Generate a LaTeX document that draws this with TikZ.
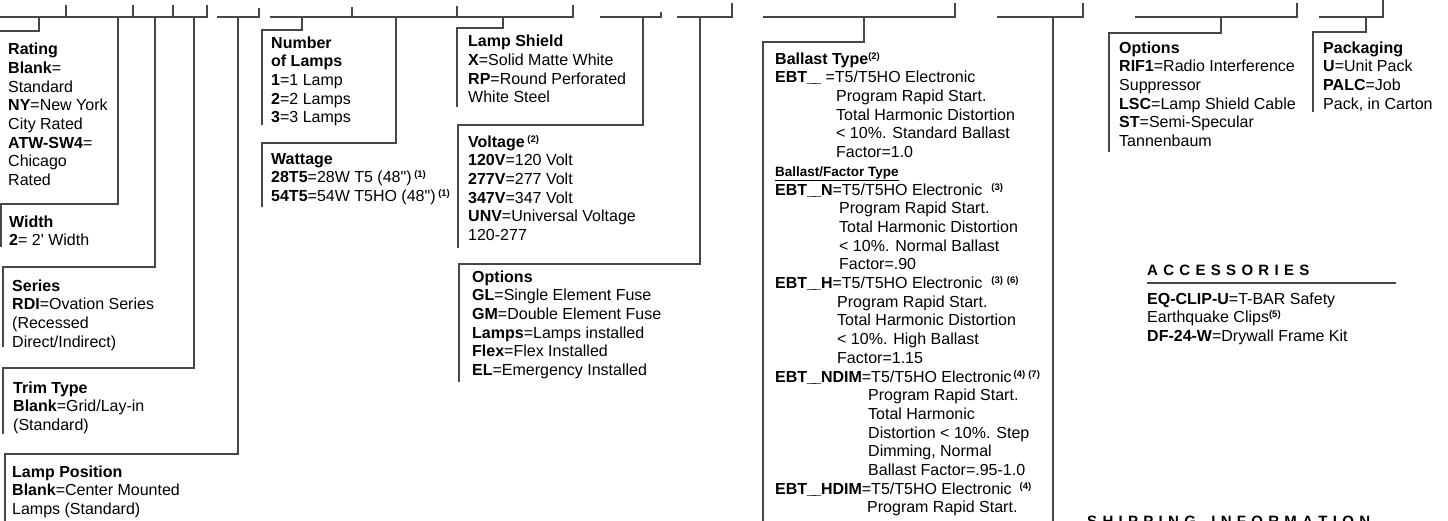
\documentclass[tikz,border=0pt]{standalone}
\usepackage{fontspec}
\setmainfont{Liberation Sans}[Ligatures=TeXOff]
\newcommand\supnum[1]{\raisebox{5pt}{\fontsize{9.5}{10}\selectfont\bfseries(#1)}}
\newcommand\lsp{\kern5.3pt}
\newcommand\us{\_\kern-4pt\_}
\begin{document}
\begin{tikzpicture}[x=1pt,y=-1pt,
  bar/.style={draw=black!72, line width=1.3pt},
  txt/.style={anchor=north west, inner sep=0pt, align=left, font=\fontsize{16}{18.7}\selectfont},
  head/.style={anchor=base west, inner sep=0pt, font=\fontsize{15}{18}\selectfont\bfseries}]
\useasboundingbox (0,0) rectangle (1448,521);
\clip (0,0) rectangle (1448,521);

% top row of code segments
\draw[bar] (0,17) -- (207,17) -- (207,5);
\foreach \x in {66,133,173} \draw[bar] (\x,5) -- (\x,17);
\draw[bar] (217,17) -- (259,17) -- (259,8);
\draw[bar] (270,17) -- (573,17) -- (573,5);
\draw[bar] (352,7) -- (352,17);
\draw[bar] (457,6) -- (457,17);
\draw[bar] (600,17) -- (661,17) -- (661,12);
\draw[bar] (677,17) -- (732,17) -- (732,3);
\draw[bar] (763,17) -- (955,17) -- (955,3);
\draw[bar] (997,17) -- (1083,17) -- (1083,3);
\draw[bar] (1135,17) -- (1297,17) -- (1297,3);
\draw[bar] (1319,17) -- (1383,17) -- (1383,0);

% brackets to the boxes
\draw[bar] (39,17) -- (39,31) -- (0,31);
\draw[bar] (118,17) -- (118,204) -- (1,204) -- (1,247);
\draw[bar] (155,17) -- (155,267) -- (3,267) -- (3,347);
\draw[bar] (194,17) -- (194,368) -- (3,368) -- (3,434);
\draw[bar] (238,17) -- (238,454) -- (5,454) -- (5,521);
\draw[bar] (302,17) -- (302,30) -- (262,30) -- (262,125);
\draw[bar] (396,17) -- (396,143) -- (262,143) -- (262,207);
\draw[bar] (503,17) -- (503,28) -- (457,28) -- (457,107);
\draw[bar] (643,17) -- (643,125) -- (458,125) -- (458,248);
\draw[bar] (700,17) -- (700,264) -- (459,264) -- (459,382);
\draw[bar] (864,17) -- (864,42) -- (763,42) -- (763,521);
\draw[bar] (1053,17) -- (1053,521);
\draw[bar] (1221,17) -- (1221,33) -- (1109,33) -- (1109,152);
\draw[bar] (1366,17) -- (1366,32) -- (1313,32) -- (1313,112);

% boxes
\node[txt] (rating) at (8,41.4) {\strut\textbf{Rating}\\ \textbf{Blank}=\\ Standard\\ \textbf{NY}=New York\\ City Rated\\ \textbf{ATW-SW4}=\\ Chicago\\ Rated};
\node[txt] (width) at (9,213.9) {\strut\textbf{Width}\\ \textbf{2}= 2' Width};
\node[txt] (series) at (12,277.9) {\strut\textbf{Series}\\ \textbf{RDI}=Ovation Series\\ (Recessed\\ Direct/Indirect)};
\node[txt] (trim) at (13,379.9) {\strut\textbf{Trim Type}\\ \textbf{Blank}=Grid/Lay-in\\ (Standard)};
\node[txt] (lamppos) at (12,463.9) {\strut\textbf{Lamp Position}\\ \textbf{Blank}=Center Mounted\\ Lamps (Standard)};
\node[txt] (number) at (271,34.9) {\strut\textbf{Number}\\ \textbf{of Lamps}\\ \textbf{1}=1 Lamp\\ \textbf{2}=2 Lamps\\ \textbf{3}=3 Lamps};
\node[txt] (wattage) at (271,150.9) {\strut\textbf{Wattage}\\ \textbf{28T5}=28W T5 (48")\,\supnum{1}\\ \textbf{54T5}=54W T5HO (48")\,\supnum{1}};
\node[txt] (shield) at (468,33.4) {\strut\textbf{Lamp Shield}\\ \textbf{X}=Solid Matte White\\ \textbf{RP}=Round Perforated\\ White Steel};
\node[txt] (voltage) at (468,133.9) {\strut\textbf{Voltage}\,\supnum{2}\\ \textbf{120V}=120 Volt\\ \textbf{277V}=277 Volt\\ \textbf{347V}=347 Volt\\ \textbf{UNV}=Universal Voltage\\ 120-277};
\node[txt] (options) at (472,268.9) {\strut\textbf{Options}\\ \textbf{GL}=Single Element Fuse\\ \textbf{GM}=Double Element Fuse\\ \textbf{Lamps}=Lamps installed\\ \textbf{Flex}=Flex Installed\\ \textbf{EL}=Emergency Installed};
\node[txt] (ballast) at (775,50.9) {\strut\textbf{Ballast Type}\supnum{2}\\
 \textbf{EBT\us}\ =T5/T5HO Electronic\\
 \hspace*{61pt}Program Rapid Start.\\
 \hspace*{61pt}Total Harmonic Distortion\\
 \hspace*{61pt}< 10\%. Standard Ballast\\
 \hspace*{61pt}Factor=1.0\\
 {\fontsize{13.5}{18.7}\selectfont\bfseries\underline{Ballast/Factor Type}}\\
 \textbf{EBT\us N}=T5/T5HO Electronic\hspace{9pt}\supnum{3}\\
 \hspace*{64pt}Program Rapid Start.\\
 \hspace*{64pt}Total Harmonic Distortion\\
 \hspace*{64pt}< 10\%. Normal Ballast\\
 \hspace*{64pt}Factor=.90\\
 \textbf{EBT\us H}=T5/T5HO Electronic\hspace{9pt}\supnum{3}\hspace{4pt}\supnum{6}\\
 \hspace*{62pt}Program Rapid Start.\\
 \hspace*{62pt}Total Harmonic Distortion\\
 \hspace*{62pt}< 10\%. High Ballast\\
 \hspace*{62pt}Factor=1.15\\
 \textbf{EBT\us NDIM}=T5/T5HO Electronic\hspace{2pt}\supnum{4}\hspace{3pt}\supnum{7}\\
 \hspace*{93pt}Program Rapid Start.\\
 \hspace*{93pt}Total Harmonic\\
 \hspace*{93pt}Distortion < 10\%. Step\\
 \hspace*{93pt}Dimming, Normal\\
 \hspace*{93pt}Ballast Factor=.95-1.0\\
 \textbf{EBT\us HDIM}=T5/T5HO Electronic\hspace{8pt}\supnum{4}\\
 \hspace*{92pt}Program Rapid Start.};
\node[txt] (optionsr) at (1119,39.9) {\strut\textbf{Options}\\ \textbf{RIF1}=Radio Interference\\ Suppressor\\ \textbf{LSC}=Lamp Shield Cable\\ \textbf{ST}=Semi-Specular\\ Tannenbaum};
\node[txt] (packaging) at (1323,39.9) {\strut\textbf{Packaging}\\ \textbf{U}=Unit Pack\\ \textbf{PALC}=Job\\ Pack, in Carton};

% accessories
\node[head] (acc) at (1147,276) {A\lsp C\lsp C\lsp E\lsp S\lsp S\lsp O\lsp R\lsp I\lsp E\lsp S};
\coordinate (accl) at (1147,283);
\coordinate (accr) at (1396,283);
\draw[bar] (accl) -- (accr);
\node[txt] (acclist) at (1147,290.9) {\strut\textbf{EQ-CLIP-U}=T-BAR Safety\\ Earthquake Clips\supnum{5}\\ \textbf{DF-24-W}=Drywall Frame Kit};

% shipping heading (cut by the page edge, as in the reference)
\node[head] (ship) at (1087,526) {S\lsp H\lsp I\lsp P\lsp P\lsp I\lsp N\lsp G\lsp\hspace{10pt}I\lsp N\lsp F\lsp O\lsp R\lsp M\lsp A\lsp T\lsp I\lsp O\lsp N};
\end{tikzpicture}
\end{document}
